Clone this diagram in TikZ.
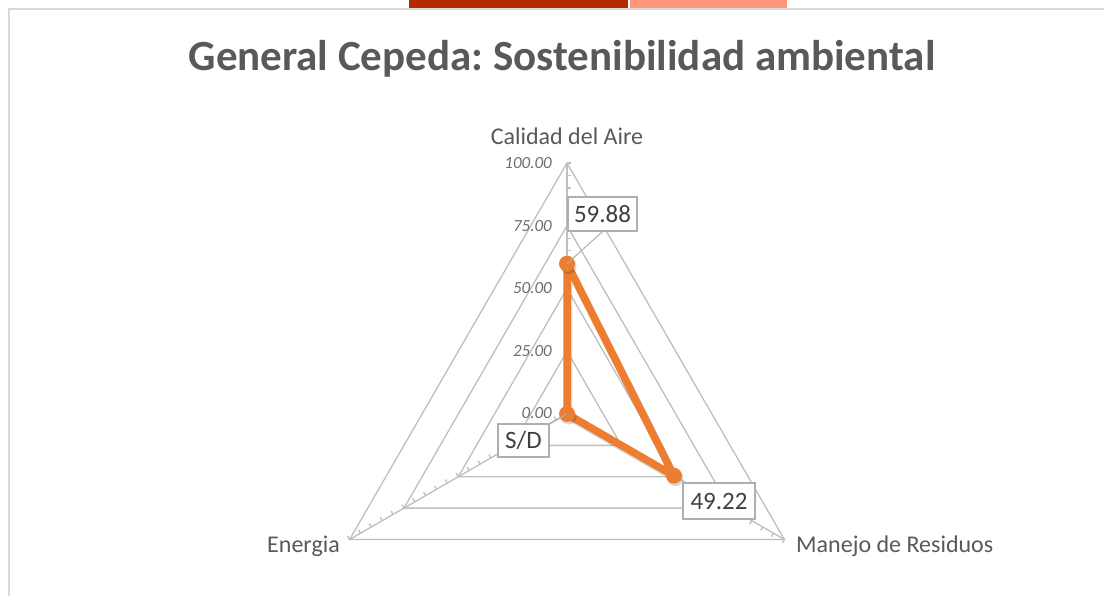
\documentclass[tikz,border=0pt]{standalone}
\usepackage{fontspec}
\setmainfont{Carlito}
\frenchspacing
\usetikzlibrary{calc}
\definecolor{gridgray}{RGB}{191,191,191}
\definecolor{framegray}{RGB}{217,217,217}
\definecolor{txtgray}{RGB}{89,89,89}
\definecolor{lblgray}{RGB}{64,64,64}
\definecolor{ticklbl}{RGB}{110,110,110}
\definecolor{boxgray}{RGB}{175,175,175}
\definecolor{serieorange}{RGB}{237,125,49}
\definecolor{hdrred}{RGB}{181,41,0}
\definecolor{hdrsalmon}{RGB}{255,150,122}
\begin{document}
\begin{tikzpicture}[x=1pt,y=1pt,
  gridline/.style={draw=gridgray,line width=1.3pt},
  ticklabel/.style={anchor=east,text=ticklbl,inner sep=0pt,font=\fontsize{17}{19}\selectfont\itshape},
  axislabel/.style={text=txtgray,inner sep=0pt,font=\fontsize{24}{28}\selectfont},
  datalabel/.style={draw=boxgray,line width=1.2pt,fill=white,text=lblgray,inner sep=0pt,font=\fontsize{25}{28}\selectfont},
  serie/.style={draw=serieorange,line width=7.5pt,line join=round,line cap=round},
  marker/.style={fill=serieorange,circle,inner sep=0pt,minimum size=16pt}]
\useasboundingbox (0,0) rectangle (1104,596);
\fill[white] (0,0) rectangle (1104,596);
% header bars and frame
\fill[hdrred] (409,588) rectangle (628,596);
\fill[hdrsalmon] (630,588) rectangle (787,596);
\draw[framegray,line width=2pt] (9,0) -- (9,586.5) -- (1104,586.5);
% title
\node[text=txtgray,font=\fontsize{43}{48}\selectfont\bfseries] (title) at (562,537) {General Cepeda: Sostenibilidad ambiental};
\begin{scope}[shift={(567,182)}]
  \coordinate (O) at (0,0);
  \foreach \r in {62.75,125.5,188.25,251}
    \draw[gridline] (90:\r) -- (210:\r) -- (330:\r) -- cycle;
  \foreach \a/\n in {90/top,210/left,330/right} {
    \coordinate (v\n) at (\a:251);
    \draw[gridline] (O) -- (v\n);
    \foreach \k in {1,...,20} {
      \pgfmathsetmacro{\rr}{\k*12.55}
      \pgfmathsetmacro{\ta}{\a-90}
      \draw[gridline] (\a:\rr) -- ++(\ta:4);
    }
  }
  % tick labels
  \node[ticklabel] (t100) at (-15,251) {100.00};
  \node[ticklabel] (t75) at (-15,188.25) {75.00};
  \node[ticklabel] (t50) at (-15,125.5) {50.00};
  \node[ticklabel] (t25) at (-15,62.75) {25.00};
  \node[ticklabel] (t0) at (-15,1) {0.00};
  % axis labels
  \node[axislabel] (aire) at (0,278) {Calidad del Aire};
  \node[axislabel,anchor=east] (energia) at (-227,-132) {Energia};
  \node[axislabel,anchor=west] (residuos) at (229,-132) {Manejo de Residuos};
  % data
  \coordinate (p1) at (90:150.3);
  \coordinate (p2) at (330:123.5);
  \coordinate (p3) at (0,0);
  \draw[serie,draw=black,opacity=0.15] ([shift={(1.5,-2.5)}]p1) -- ([shift={(1.5,-2.5)}]p2) -- ([shift={(1.5,-2.5)}]p3) -- cycle;
  \draw[serie] (p1) -- (p2) -- (p3) -- cycle;
  \foreach \p in {p1,p2,p3} {
    \fill[black,opacity=0.15] ([shift={(1.5,-2.5)}]\p) circle (8);
    \node[marker] (m\p) at (\p) {};
  }
  % data labels
  \node[datalabel,minimum width=69pt,minimum height=34pt] (l1) at (35.5,200) {59.88};
  \draw[draw=boxgray,line width=1pt] (l1.south) -- (mp1.center);
  \node[datalabel,minimum width=51pt,minimum height=33pt] (l3) at (-43.5,-26.5) {S/D};
  \draw[draw=boxgray,line width=1pt] (l3.north east) -- (mp3.center);
  \node[datalabel,minimum width=72pt,minimum height=36pt] (l2) at (152,-87) {49.22};
\end{scope}
\end{tikzpicture}
\end{document}
